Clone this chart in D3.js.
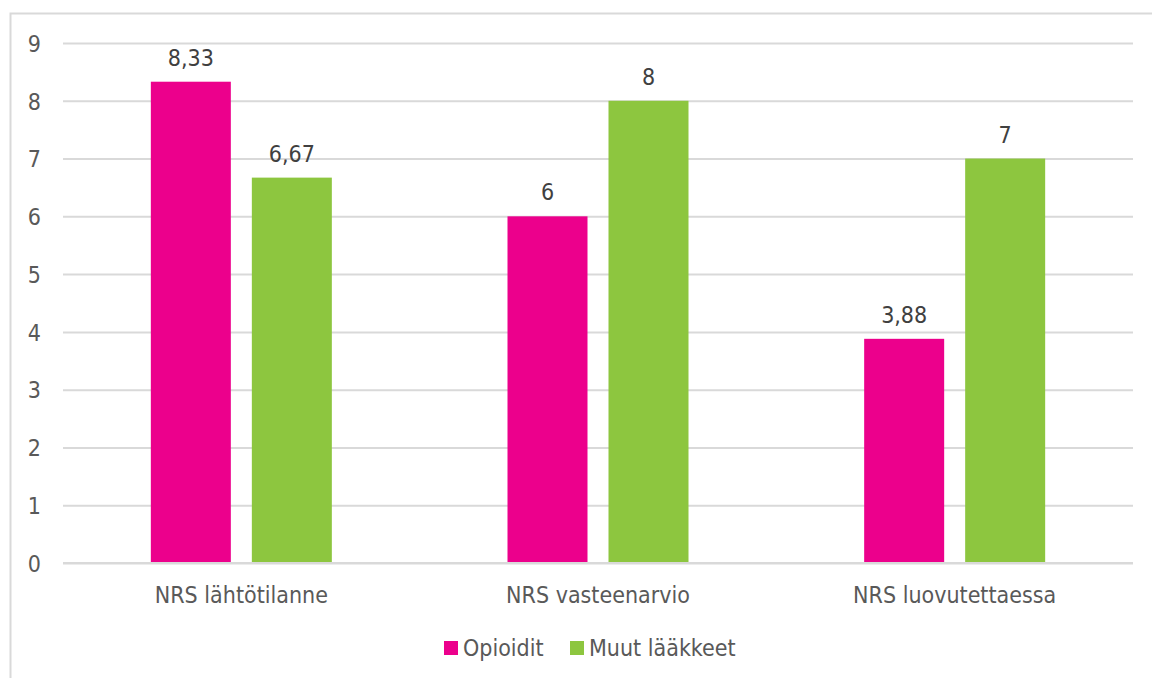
<!DOCTYPE html>
<html>
<head>
<meta charset="utf-8">
<script src="https://cdn.jsdelivr.net/npm/d3@7"></script>
<style>
  html, body { margin: 0; padding: 0; background: #fff; }
  svg { display: block; }
  svg text { font-family: "DejaVu Sans Condensed", "DejaVu Sans", Verdana, sans-serif; }
</style>
</head>
<body>
<svg id="chart" width="1152" height="678"></svg>
<script>
// Pain scores (NRS) per measurement point
const categories = ["NRS lähtötilanne", "NRS vasteenarvio", "NRS luovutettaessa"];
const seriesNames = ["Opioidit", "Muut lääkkeet"];
const opioidit = [8.33, 6, 3.88];
const muutLaakkeet = [6.67, 8, 7];
const yTicks = [0, 1, 2, 3, 4, 5, 6, 7, 8, 9];

const colors = ["#EC008C", "#8DC63F"];
const seriesValues = [opioidit, muutLaakkeet];
const FS = 23;

const svg = d3.select("#chart");
const W = 1152, H = 678;

// outer frame of the chart area
svg.append("rect")
  .attr("x", 10.5).attr("y", 13.5)
  .attr("width", W + 10).attr("height", H + 10)
  .attr("fill", "#fff").attr("stroke", "#d9d9d9").attr("stroke-width", 2);

const plot = { left: 63, right: 1133, top: 43, bottom: 563 };

const x = d3.scaleBand().domain(categories).range([plot.left, plot.right]).paddingInner(0).paddingOuter(0);
const y = d3.scaleLinear().domain([0, 9]).range([plot.bottom, plot.top]);

const barW = 80, gap = 21;

// horizontal gridlines with value labels
const yAxis = d3.axisLeft(y).tickValues(yTicks).tickSize(-(plot.right - plot.left)).tickPadding(22).tickFormat(d3.format("d"));
const gy = svg.append("g").attr("transform", `translate(${plot.left},0)`).call(yAxis)
  .attr("font-family", null).attr("font-size", null);
gy.select(".domain").remove();
gy.selectAll(".tick line").attr("stroke", "#d9d9d9").attr("stroke-width", 2);
gy.selectAll(".tick text").attr("fill", "#595959").attr("font-size", FS).attr("dy", "0.36em");

// bars with value labels
const groups = svg.append("g");
categories.forEach((cat, i) => {
  const cx = x(cat) + x.bandwidth() / 2;
  seriesValues.forEach((vals, s) => {
    const bx = s === 0 ? cx - gap / 2 - barW : cx + gap / 2;
    const v = vals[i];
    groups.append("rect")
      .attr("x", bx).attr("y", y(v))
      .attr("width", barW).attr("height", y(0) - y(v))
      .attr("fill", colors[s]);
    groups.append("text")
      .attr("x", bx + barW / 2).attr("y", y(v) - 16)
      .attr("text-anchor", "middle")
      .attr("fill", "#404040").attr("font-size", FS)
      .text(String(v).replace(".", ","));
  });
});

// category axis labels
const xAxis = d3.axisBottom(x).tickSize(0).tickPadding(22);
const gx = svg.append("g").attr("transform", `translate(0,${plot.bottom})`).call(xAxis)
  .attr("font-family", null).attr("font-size", null);
gx.select(".domain").remove();
gx.selectAll(".tick text").attr("fill", "#595959").attr("font-size", FS).attr("dy", "0.78em");

// baseline at zero
svg.append("line")
  .attr("x1", plot.left).attr("x2", plot.right)
  .attr("y1", y(0)).attr("y2", y(0))
  .attr("stroke", "#d9d9d9").attr("stroke-width", 2);

// legend
const legend = svg.append("g");
const legendItems = [{ name: seriesNames[0], x: 444 }, { name: seriesNames[1], x: 570 }];
legendItems.forEach((d, i) => {
  legend.append("rect").attr("x", d.x).attr("y", 641).attr("width", 14).attr("height", 14).attr("fill", colors[i]);
  legend.append("text").attr("x", d.x + 19).attr("y", 656)
    .attr("fill", "#595959").attr("font-size", FS).text(d.name);
});
</script>
</body>
</html>
